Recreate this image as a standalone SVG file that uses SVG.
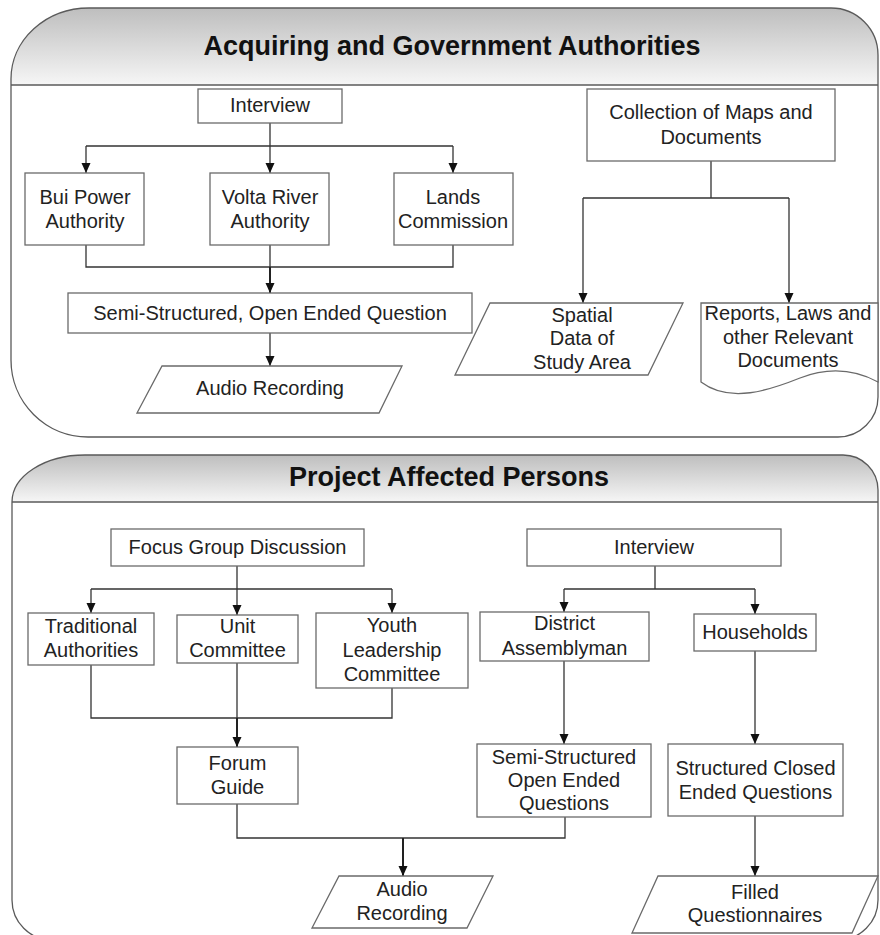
<svg xmlns="http://www.w3.org/2000/svg" width="880" height="935" viewBox="0 0 880 935">
  <style>
    .panel { fill: none; stroke: #5a5a5a; stroke-width: 1.3; }
    .head { fill: url(#headGrad); stroke: none; }
    .divider { stroke: #5a5a5a; stroke-width: 1.3; }
    .title { font-family: "Liberation Sans", Arial, sans-serif; font-weight: bold; font-size: 27px; fill: #111; text-anchor: middle; }
    .box { fill: #fff; stroke: #6a6a6a; stroke-width: 1.3; }
    .lbl { font-family: "Liberation Sans", Arial, sans-serif; font-size: 20px; fill: #222; text-anchor: middle; }
    .wire { fill: none; stroke: #333; stroke-width: 1.3; }
    .wire.heavy { stroke-width: 2; stroke: #222; }
    .arrow { marker-end: url(#tip); }
  </style>
  <defs>
    <linearGradient id="headGrad" x1="0" y1="0" x2="0" y2="1">
      <stop offset="0" stop-color="#bebebe"/>
      <stop offset="1" stop-color="#f6f6f6"/>
    </linearGradient>
    <marker id="tip" markerUnits="userSpaceOnUse" markerWidth="10" markerHeight="10" refX="10" refY="4.5" orient="auto">
      <path d="M0,0 L10,4.5 L0,9 Z" fill="#111"/>
    </marker>
  </defs>

  <rect width="880" height="935" fill="#fff"/>

  <!-- Upper panel: acquiring and government authorities -->
  <g id="panel-authorities">
    <path class="head" d="M11,85 V79 A78,71 0 0 1 89,8 H831 A47,47 0 0 1 878,55 V85 Z"/>
    <path class="panel" d="M11,79 A78,71 0 0 1 89,8 H831 A47,47 0 0 1 878,55 V397 A40,40 0 0 1 838,437 H88 A77,77 0 0 1 11,360 Z"/>
    <line class="divider" x1="11" y1="85" x2="878" y2="85"/>
    <text class="title" x="452" y="55">Acquiring and Government Authorities</text>
  </g>

  <!-- Lower panel: project affected persons -->
  <g id="panel-affected">
    <path class="head" d="M12,502 A73,47 0 0 1 85,455 H843 A35,35 0 0 1 878,490 V502 Z"/>
    <path class="panel" d="M12,502 A73,47 0 0 1 85,455 H843 A35,35 0 0 1 878,490 V900 A40,40 0 0 1 838,940 H52 A40,40 0 0 1 12,900 Z"/>
    <line class="divider" x1="12" y1="502" x2="878" y2="502"/>
    <text class="title" x="449" y="486">Project Affected Persons</text>
  </g>

  <!-- Connectors -->
  <g id="connectors">
    <!-- upper panel -->
    <path class="wire" d="M270,123 V146 M86,146 H453"/>
    <path class="wire arrow" d="M86,146 V173"/>
    <path class="wire arrow" d="M270,146 V173"/>
    <path class="wire arrow" d="M453,146 V173"/>
    <path class="wire" d="M86,245 V267 H453 V245"/>
    <path class="wire" d="M270,245 V267"/>
    <path class="wire heavy arrow" d="M270,267 V293"/>
    <path class="wire arrow" d="M270,333 V366"/>
    <path class="wire" d="M711,161 V198 M583,198 H789"/>
    <path class="wire arrow" d="M583,198 V303"/>
    <path class="wire arrow" d="M789,198 V303"/>

    <!-- lower panel -->
    <path class="wire" d="M237,566 V589 M91,589 H392"/>
    <path class="wire arrow" d="M91,589 V613"/>
    <path class="wire arrow" d="M237,589 V615"/>
    <path class="wire arrow" d="M392,589 V613"/>
    <path class="wire" d="M91,665 V718 H392 V688"/>
    <path class="wire" d="M237,663 V718"/>
    <path class="wire heavy arrow" d="M237,718 V747"/>
    <path class="wire" d="M655,566 V589 M564,589 H755"/>
    <path class="wire arrow" d="M564,589 V612"/>
    <path class="wire arrow" d="M755,589 V614"/>
    <path class="wire arrow" d="M564,661 V744"/>
    <path class="wire arrow" d="M755,651 V744"/>
    <path class="wire" d="M237,804 V838 H565 V817"/>
    <path class="wire heavy arrow" d="M403,838 V876"/>
    <path class="wire arrow" d="M755,816 V876"/>
  </g>

  <!-- Upper panel nodes -->
  <g id="interview-authorities">
    <rect class="box" x="198" y="89" width="144" height="34"/>
    <text class="lbl" x="270" y="112">Interview</text>
  </g>
  <g id="bui-power-authority">
    <rect class="box" x="25" y="173" width="119" height="72"/>
    <text class="lbl" x="85" y="204">Bui Power</text>
    <text class="lbl" x="85" y="228">Authority</text>
  </g>
  <g id="volta-river-authority">
    <rect class="box" x="210" y="173" width="119" height="72"/>
    <text class="lbl" x="270" y="204">Volta River</text>
    <text class="lbl" x="270" y="228">Authority</text>
  </g>
  <g id="lands-commission">
    <rect class="box" x="394" y="173" width="119" height="72"/>
    <text class="lbl" x="453" y="204">Lands</text>
    <text class="lbl" x="453" y="228">Commission</text>
  </g>
  <g id="semi-structured-question">
    <rect class="box" x="68" y="293" width="404" height="40"/>
    <text class="lbl" x="270" y="320">Semi-Structured, Open Ended Question</text>
  </g>
  <g id="audio-recording-authorities">
    <polygon class="box" points="162,366 402,366 379,413 137,413"/>
    <text class="lbl" x="270" y="395">Audio Recording</text>
  </g>
  <g id="collection-maps-documents">
    <rect class="box" x="587" y="89" width="248" height="72"/>
    <text class="lbl" x="711" y="119">Collection of Maps and</text>
    <text class="lbl" x="711" y="144">Documents</text>
  </g>
  <g id="spatial-data">
    <polygon class="box" points="490,303 683,303 648,375 455,375"/>
    <text class="lbl" x="582" y="322">Spatial</text>
    <text class="lbl" x="582" y="345">Data of</text>
    <text class="lbl" x="582" y="369">Study Area</text>
  </g>
  <g id="reports-laws-documents">
    <path class="box" d="M701,303 H878 V382 C852,368 826,368 800,378 C770,390 730,404 701,382 Z"/>
    <text class="lbl" x="788" y="320">Reports, Laws and</text>
    <text class="lbl" x="788" y="344">other Relevant</text>
    <text class="lbl" x="788" y="367">Documents</text>
  </g>

  <!-- Lower panel nodes -->
  <g id="focus-group-discussion">
    <rect class="box" x="111" y="529" width="253" height="37"/>
    <text class="lbl" x="237.5" y="554">Focus Group Discussion</text>
  </g>
  <g id="interview-affected">
    <rect class="box" x="527" y="529" width="254" height="37"/>
    <text class="lbl" x="654" y="554">Interview</text>
  </g>
  <g id="traditional-authorities">
    <rect class="box" x="28" y="613" width="126" height="52"/>
    <text class="lbl" x="91" y="633">Traditional</text>
    <text class="lbl" x="91" y="657">Authorities</text>
  </g>
  <g id="unit-committee">
    <rect class="box" x="177" y="615" width="121" height="48"/>
    <text class="lbl" x="237.5" y="633">Unit</text>
    <text class="lbl" x="237.5" y="657">Committee</text>
  </g>
  <g id="youth-leadership-committee">
    <rect class="box" x="316" y="613" width="152" height="75"/>
    <text class="lbl" x="392" y="632">Youth</text>
    <text class="lbl" x="392" y="657">Leadership</text>
    <text class="lbl" x="392" y="681">Committee</text>
  </g>
  <g id="district-assemblyman">
    <rect class="box" x="480" y="612" width="169" height="49"/>
    <text class="lbl" x="564.5" y="630">District</text>
    <text class="lbl" x="564.5" y="655">Assemblyman</text>
  </g>
  <g id="households">
    <rect class="box" x="694" y="614" width="122" height="37"/>
    <text class="lbl" x="755" y="639">Households</text>
  </g>
  <g id="forum-guide">
    <rect class="box" x="177" y="747" width="121" height="57"/>
    <text class="lbl" x="237.5" y="770">Forum</text>
    <text class="lbl" x="237.5" y="794">Guide</text>
  </g>
  <g id="semi-structured-questions">
    <rect class="box" x="477" y="744" width="174" height="73"/>
    <text class="lbl" x="564" y="764">Semi-Structured</text>
    <text class="lbl" x="564" y="787">Open Ended</text>
    <text class="lbl" x="564" y="810">Questions</text>
  </g>
  <g id="structured-closed-questions">
    <rect class="box" x="668" y="744" width="175" height="72"/>
    <text class="lbl" x="755.5" y="775">Structured Closed</text>
    <text class="lbl" x="755.5" y="799">Ended Questions</text>
  </g>
  <g id="audio-recording-affected">
    <polygon class="box" points="339,876 493,876 467,928 312,928"/>
    <text class="lbl" x="402" y="896">Audio</text>
    <text class="lbl" x="402" y="920">Recording</text>
  </g>
  <g id="filled-questionnaires">
    <polygon class="box" points="658,876 878,876 852,933 632,933"/>
    <text class="lbl" x="755" y="899">Filled</text>
    <text class="lbl" x="755" y="922">Questionnaires</text>
  </g>
</svg>
